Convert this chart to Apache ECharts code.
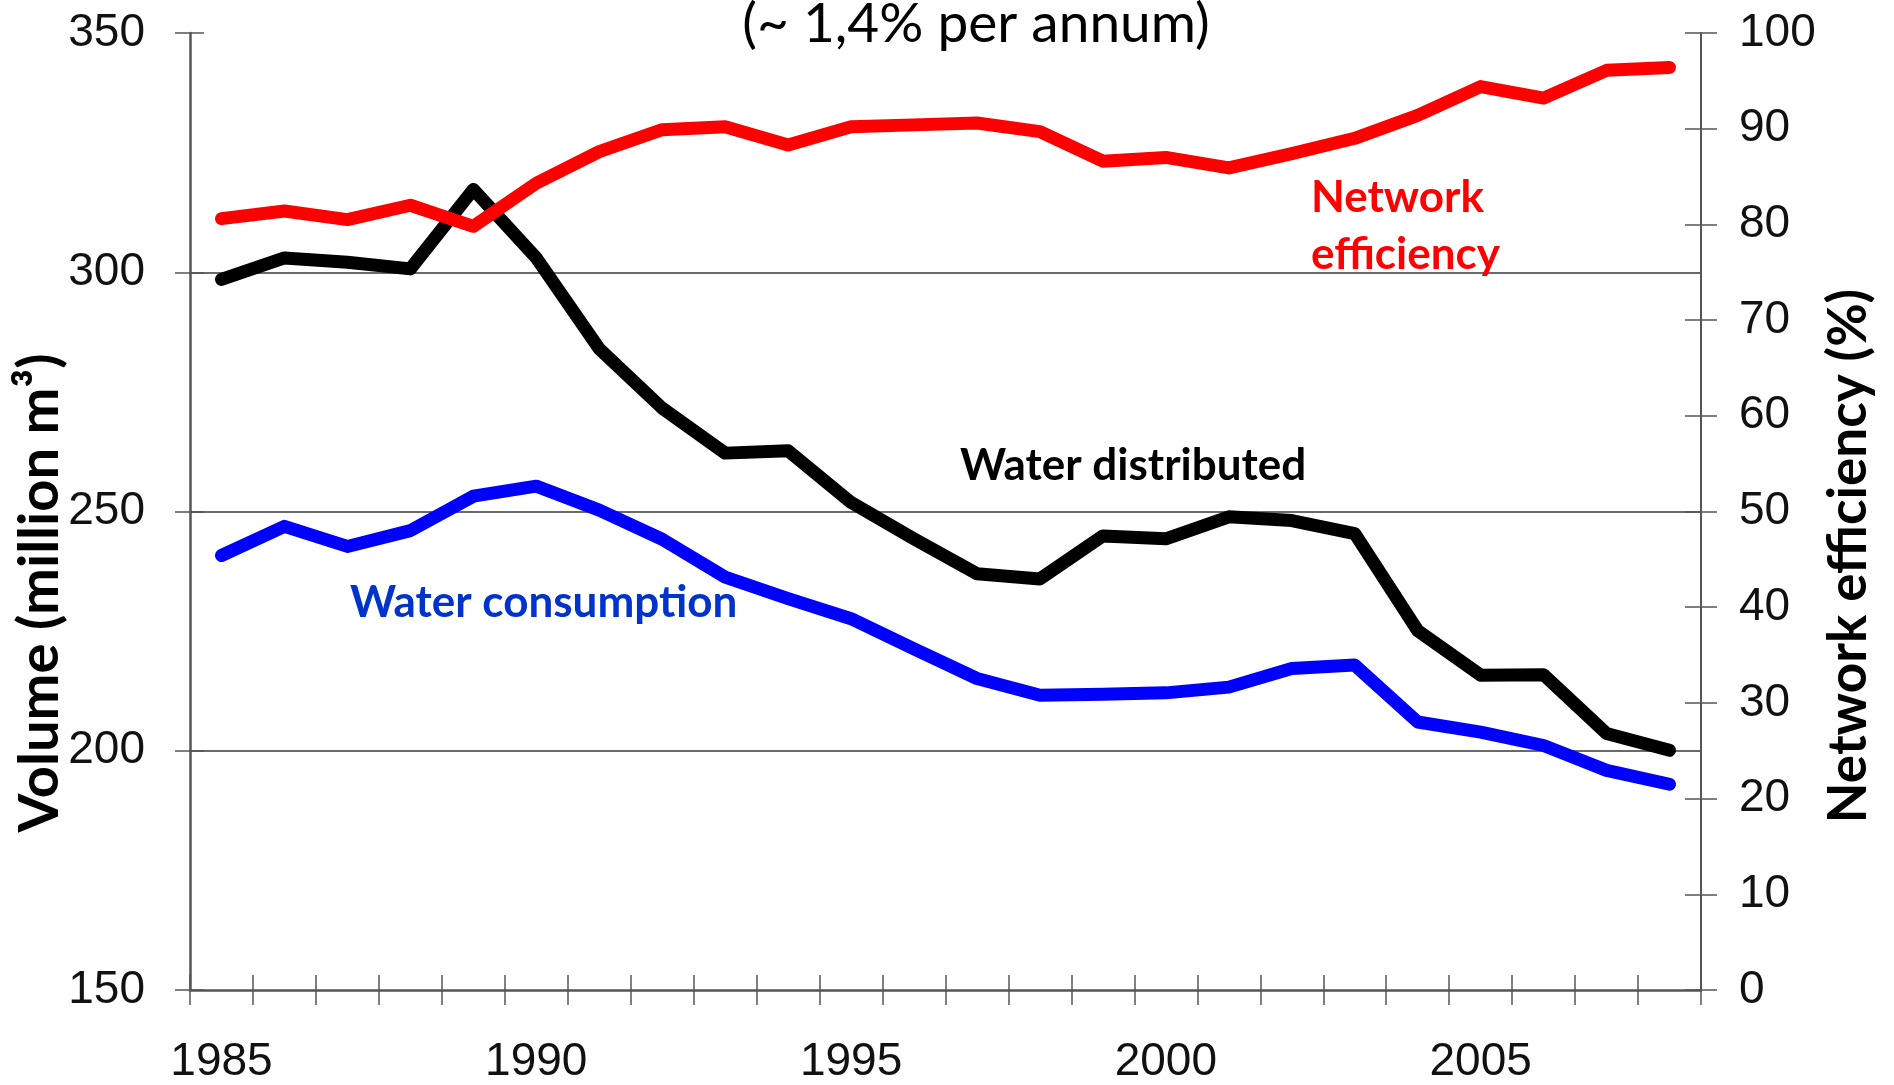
<!DOCTYPE html>
<html>
<head>
<meta charset="utf-8">
<script src="https://cdn.jsdelivr.net/npm/echarts@6/dist/echarts.min.js"></script>
<style>
html,body{margin:0;padding:0;background:#fff;}
#chart{width:1894px;height:1085px;}
</style>
</head>
<body>
<div id="chart"></div>
<script>
const years = ['1985','1986','1987','1988','1989','1990','1991','1992','1993','1994','1995','1996','1997','1998','1999','2000','2001','2002','2003','2004','2005','2006','2007','2008'];
const waterDistributed = [298.5, 303.0, 302.1, 300.7, 317.3, 303.0, 284.0, 271.6, 262.2, 262.7, 251.9, 244.3, 237.0, 235.9, 244.9, 244.3, 248.9, 248.1, 245.4, 225.1, 215.8, 215.9, 203.6, 200.1];
const waterConsumption = [240.8, 246.9, 242.7, 246.0, 253.2, 255.3, 250.3, 244.2, 236.3, 231.8, 227.6, 221.3, 215.1, 211.6, 211.8, 212.1, 213.3, 217.2, 217.9, 206.0, 203.9, 201.1, 195.9, 193.0];
const networkEfficiency = [80.6, 81.4, 80.5, 82.0, 79.8, 84.3, 87.6, 89.9, 90.2, 88.3, 90.2, 90.4, 90.6, 89.7, 86.6, 87.0, 85.9, 87.4, 89.0, 91.4, 94.4, 93.2, 96.1, 96.4];

const titleText = '(~ 1,4% per annum)';
const leftAxisTitle = 'Volume (million m³)';
const rightAxisTitle = 'Network efficiency (%)';

const chart = echarts.init(document.getElementById('chart'), null, {renderer: 'canvas'});
const axisColor = '#555';
const tickFont = {fontSize: 46, fontFamily: 'Liberation Sans, Arial, sans-serif', color: '#111'};
const annFont = 'Lato, "Open Sans", sans-serif';

const option = {
  backgroundColor: '#fff',
  animation: false,
  grid: {left: 190, right: 193, top: 33, bottom: 93, containLabel: false},
  xAxis: [
    {
      type: 'category', data: years, boundaryGap: true, position: 'bottom',
      axisLine: {show: true, lineStyle: {color: axisColor, width: 2.5}},
      axisTick: {show: true, interval: 0, length: 15, inside: false, lineStyle: {color: axisColor, width: 1.5}},
      axisLabel: Object.assign({interval: 4, margin: 49}, tickFont),
      splitLine: {show: false}
    },
    {
      type: 'category', data: years, boundaryGap: true, position: 'bottom',
      axisLine: {show: false},
      axisTick: {show: true, interval: 0, length: 15, inside: true, lineStyle: {color: axisColor, width: 1.5}},
      axisLabel: {show: false},
      splitLine: {show: false}
    }
  ],
  yAxis: [
    {
      type: 'value', position: 'left', min: 150, max: 350, interval: 50,
      axisLine: {show: true, lineStyle: {color: axisColor, width: 2.5}},
      axisTick: {show: true, length: 15, inside: false, lineStyle: {color: axisColor, width: 1.5}},
      axisLabel: Object.assign({margin: 45}, tickFont),
      splitLine: {show: true, showMinLine: false, showMaxLine: false, lineStyle: {color: '#6a6a6a', width: 2}}
    },
    {
      type: 'value', position: 'right', min: 0, max: 100, interval: 10,
      axisLine: {show: true, lineStyle: {color: axisColor, width: 2}},
      axisTick: {show: true, length: 16, inside: false, lineStyle: {color: axisColor, width: 1.5}},
      axisLabel: Object.assign({margin: 38}, tickFont),
      splitLine: {show: false}
    },
    {
      type: 'value', position: 'left', min: 150, max: 350, interval: 50,
      axisLine: {show: false},
      axisTick: {show: true, length: 14, inside: true, lineStyle: {color: axisColor, width: 1.5}},
      axisLabel: {show: false}, splitLine: {show: false}
    },
    {
      type: 'value', position: 'right', min: 0, max: 100, interval: 10,
      axisLine: {show: false},
      axisTick: {show: true, length: 16, inside: true, lineStyle: {color: axisColor, width: 1.5}},
      axisLabel: {show: false}, splitLine: {show: false}
    }
  ],
  series: [
    {
      name: 'Water distributed', type: 'line', xAxisIndex: 0, yAxisIndex: 0, data: waterDistributed,
      symbol: 'none', smooth: false, z: 3,
      lineStyle: {color: '#000', width: 13, cap: 'round', join: 'round'}
    },
    {
      name: 'Water consumption', type: 'line', xAxisIndex: 0, yAxisIndex: 0, data: waterConsumption,
      symbol: 'none', smooth: false, z: 3,
      lineStyle: {color: '#0000ff', width: 13, cap: 'round', join: 'round'}
    },
    {
      name: 'Network efficiency', type: 'line', xAxisIndex: 0, yAxisIndex: 1, data: networkEfficiency,
      symbol: 'none', smooth: false, z: 3,
      lineStyle: {color: '#ff0000', width: 13, cap: 'round', join: 'round'}
    }
  ],
  graphic: [
    {type: 'text', x: 976, y: 24, z: 10, style: {text: titleText, fontSize: 55, fontFamily: annFont, fill: '#000', align: 'center', verticalAlign: 'middle'}},
    {type: 'text', x: 40, y: 593, rotation: Math.PI / 2, z: 10, style: {text: leftAxisTitle, fontSize: 56, fontWeight: 'bold', fontFamily: annFont, fill: '#000', align: 'center', verticalAlign: 'middle'}},
    {type: 'text', x: 1849, y: 556, rotation: Math.PI / 2, z: 10, style: {text: rightAxisTitle, fontSize: 53, fontWeight: 'bold', fontFamily: annFont, fill: '#000', align: 'center', verticalAlign: 'middle'}},
    {type: 'text', x: 1311, y: 198, z: 10, style: {text: 'Network', fontSize: 44, fontWeight: 'bold', fontFamily: annFont, fill: '#ff0000', align: 'left', verticalAlign: 'middle'}},
    {type: 'text', x: 1311, y: 255, z: 10, style: {text: 'efficiency', fontSize: 44, fontWeight: 'bold', fontFamily: annFont, fill: '#ff0000', align: 'left', verticalAlign: 'middle'}},
    {type: 'text', x: 960, y: 466, z: 10, style: {text: 'Water distributed', fontSize: 44, fontWeight: 'bold', fontFamily: annFont, fill: '#000', align: 'left', verticalAlign: 'middle'}},
    {type: 'text', x: 350, y: 603, z: 10, style: {text: 'Water consumption', fontSize: 44, fontWeight: 'bold', fontFamily: annFont, fill: '#0033cc', align: 'left', verticalAlign: 'middle'}}
  ]
};
chart.setOption(option);
</script>
</body>
</html>
